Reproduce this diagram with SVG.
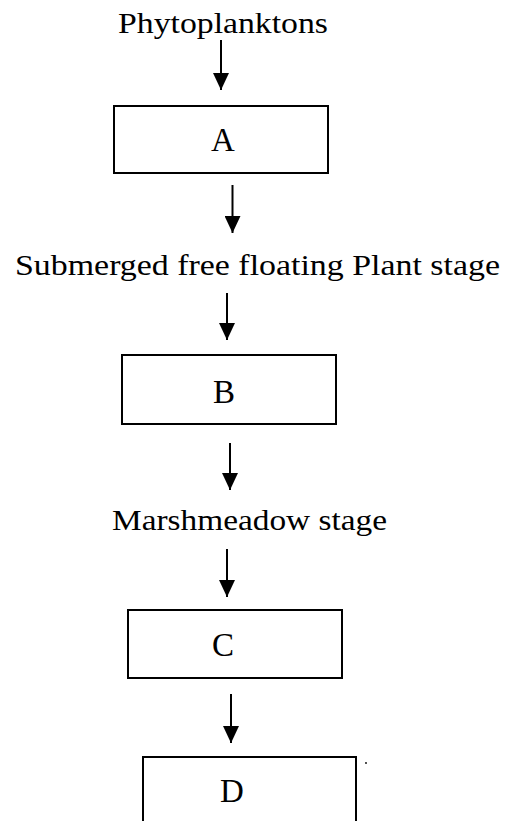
<svg xmlns="http://www.w3.org/2000/svg" width="507" height="821" viewBox="0 0 507 821">
<style>
.lbl{font-family:"Liberation Serif","Times New Roman",serif;font-size:29px;fill:#000}
.box{fill:#fff;stroke:#000;stroke-width:2}
.ltr{font-family:"Liberation Serif","Times New Roman",serif;font-size:33px;fill:#000;text-anchor:middle}
.conn line{stroke:#000;stroke-width:2;marker-end:url(#ah)}
</style>
<defs>
<marker id="ah" markerUnits="userSpaceOnUse" markerWidth="17" markerHeight="16" refX="17" refY="8" orient="auto">
<path d="M0,0 L17,8 L0,16 z" fill="#000"/>
</marker>
</defs>
<rect width="507" height="821" fill="#fff"/>
<g id="phyto"><text class="lbl" x="118" y="33" textLength="210" lengthAdjust="spacingAndGlyphs">Phytoplanktons</text></g>
<g id="nodeA"><rect class="box" x="114" y="106" width="214" height="67"/><text class="ltr" x="223" y="151">A</text></g>
<g id="submerged"><text class="lbl" x="15" y="275" textLength="485" lengthAdjust="spacingAndGlyphs">Submerged free floating Plant stage</text></g>
<g id="nodeB"><rect class="box" x="122" y="355" width="214" height="69"/><text class="ltr" x="224" y="403">B</text></g>
<g id="marsh"><text class="lbl" x="112" y="530" textLength="275" lengthAdjust="spacingAndGlyphs">Marshmeadow stage</text></g>
<g id="nodeC"><rect class="box" x="128" y="610" width="214" height="68"/><text class="ltr" x="223" y="656">C</text></g>
<g id="nodeD"><rect class="box" x="143" y="757" width="213" height="80"/><text class="ltr" x="232" y="802">D</text></g>
<g id="dot"><circle cx="366" cy="763" r="0.9" fill="#000"/></g>
<g class="conn" id="connectors">
<line x1="221" y1="40" x2="221" y2="90"/>
<line x1="232.5" y1="185" x2="232.5" y2="233"/>
<line x1="227" y1="293" x2="227" y2="340"/>
<line x1="230" y1="443" x2="230" y2="490"/>
<line x1="227" y1="549" x2="227" y2="597"/>
<line x1="231" y1="694" x2="231" y2="743"/>
</g>
</svg>
